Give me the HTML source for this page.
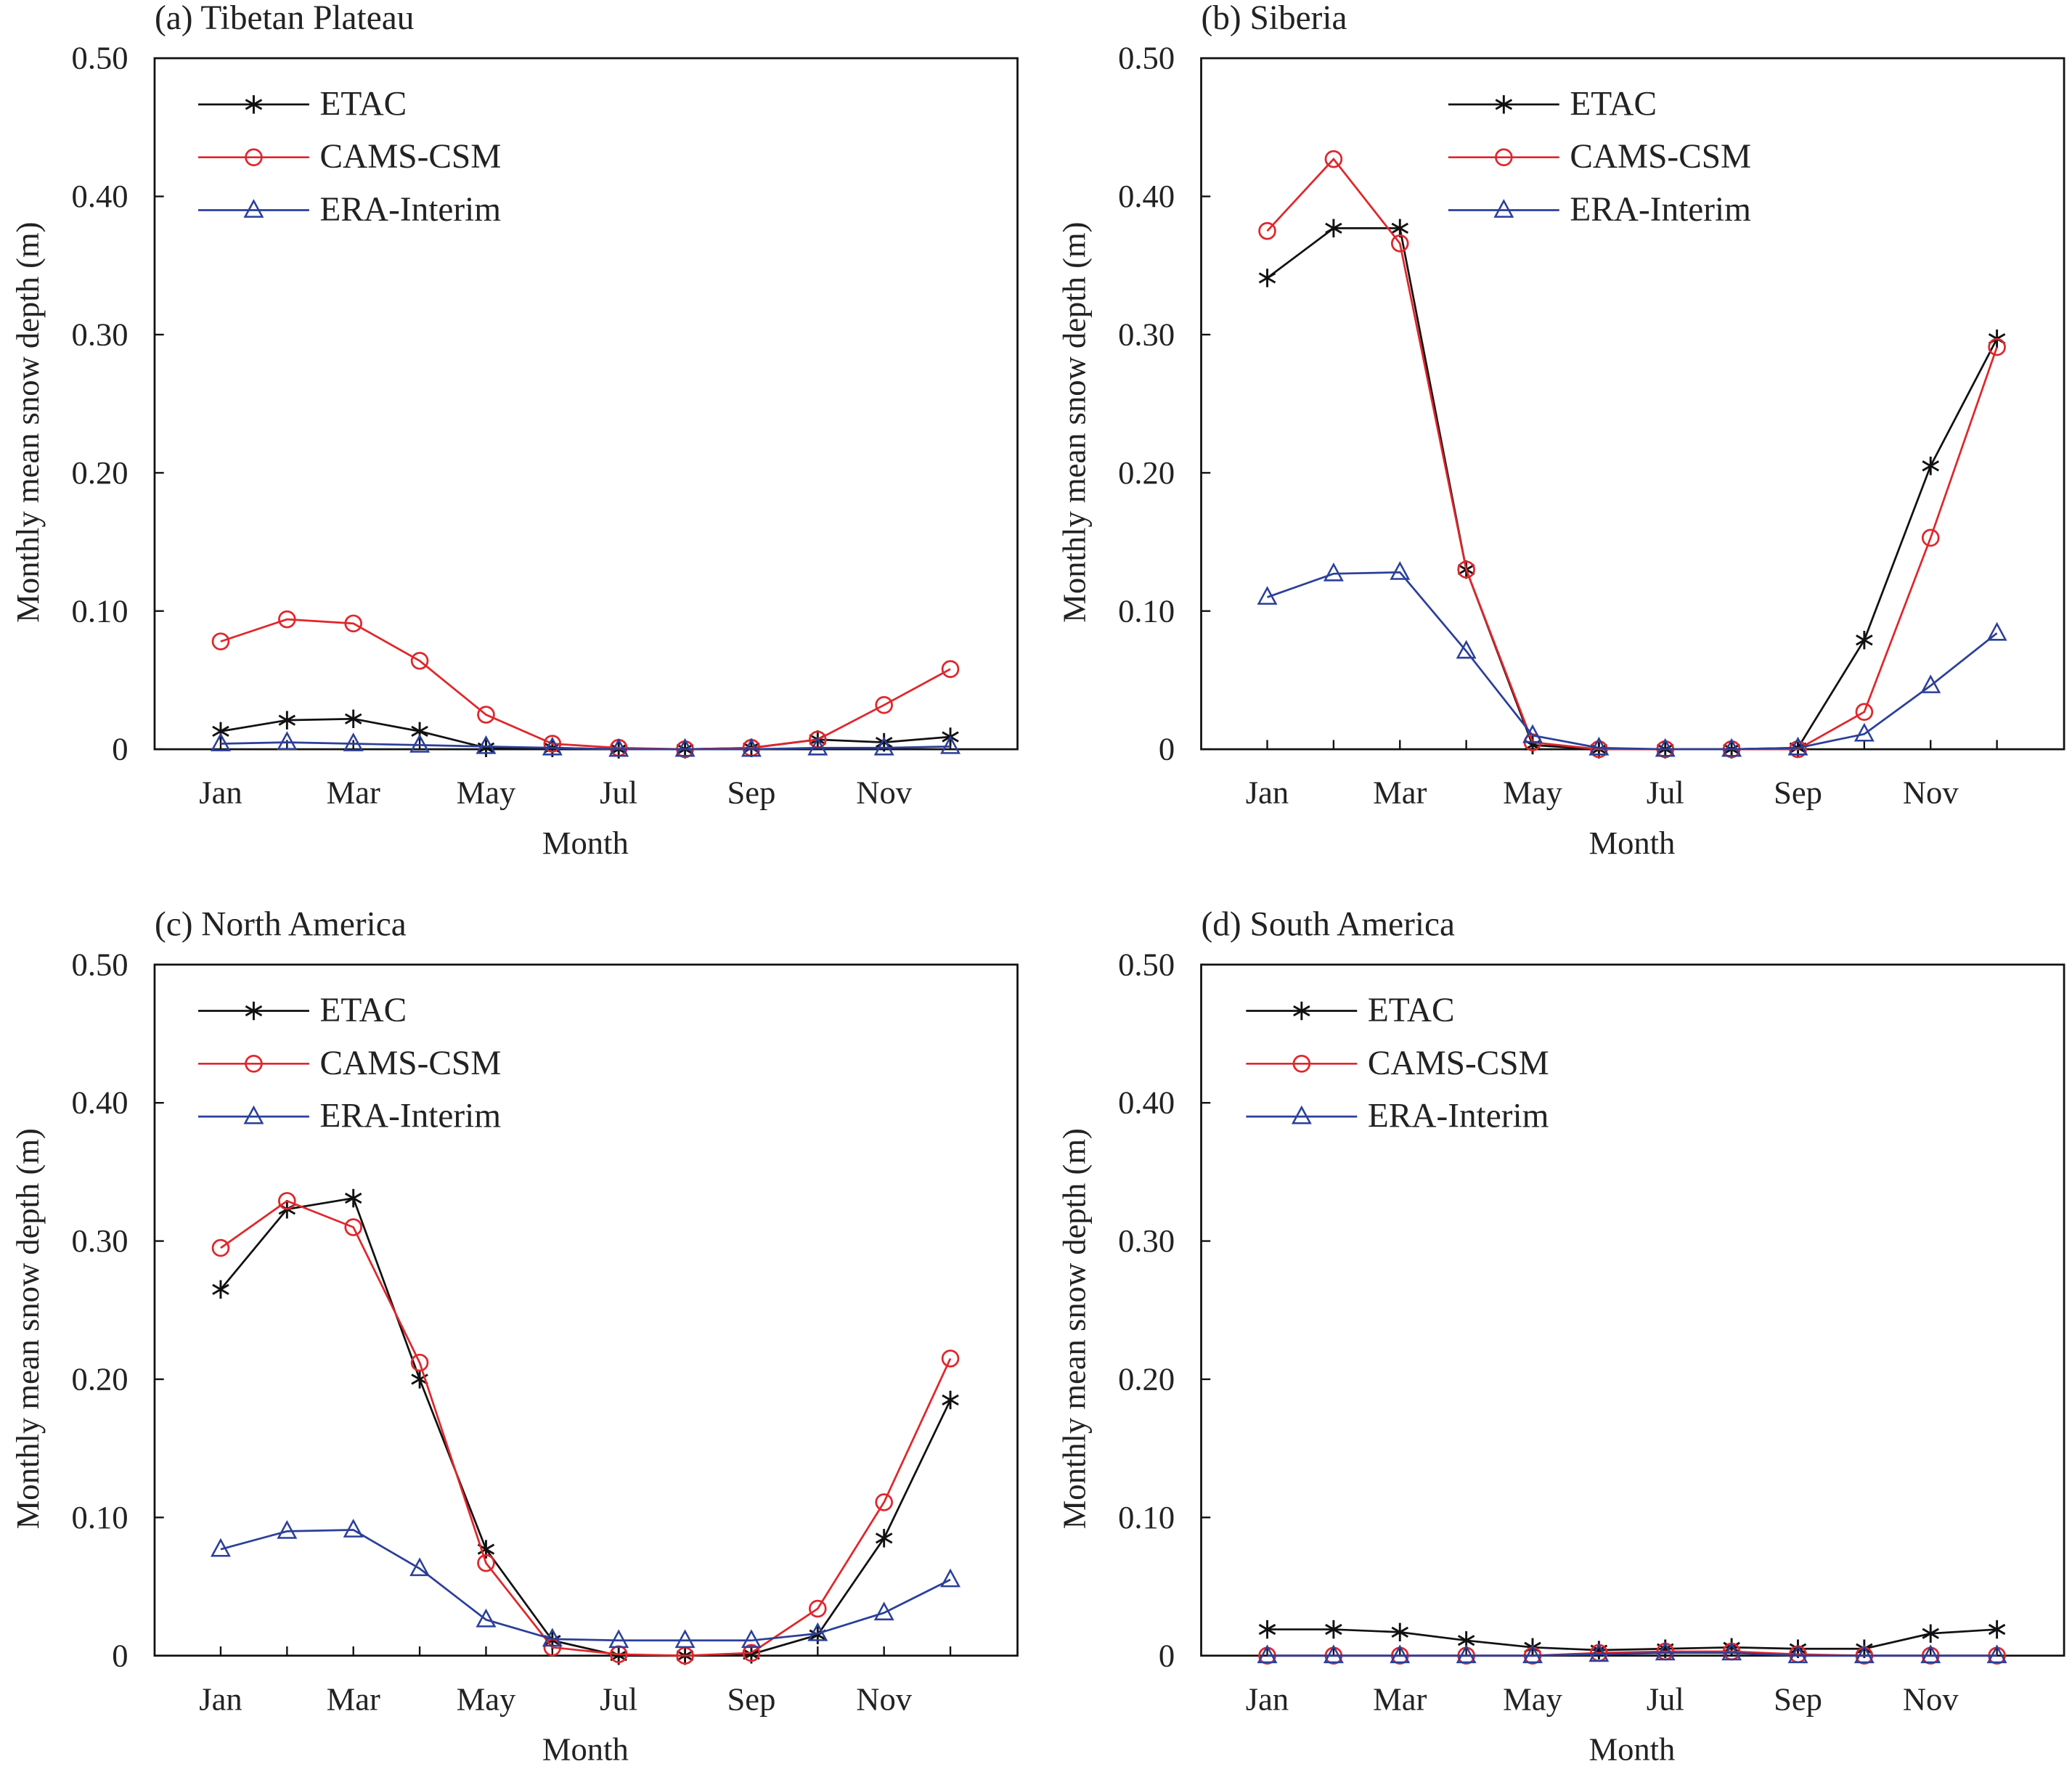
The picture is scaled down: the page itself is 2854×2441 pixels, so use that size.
<!DOCTYPE html>
<html><head><meta charset="utf-8"><style>
html,body{margin:0;padding:0;background:#fff;}
svg{display:block;}
text{font-family:"Liberation Serif",serif;fill:#222;}
</style></head><body>
<svg id="c" width="2854" height="2441" viewBox="0 0 1568 1341" xmlns="http://www.w3.org/2000/svg"></svg>
<script>
const months=["Jan","Feb","Mar","Apr","May","Jun","Jul","Aug","Sep","Oct","Nov","Dec"];
const yTicks=[0,0.1,0.2,0.3,0.4,0.5];
const yTickLabels=["0","0.10","0.20","0.30","0.40","0.50"];
const seriesNames=["ETAC","CAMS-CSM","ERA-Interim"];
const tpEtac=[0.013,0.021,0.022,0.013,0.001,0.001,0,0,0.001,0.007,0.005,0.009];
const tpCams=[0.078,0.094,0.091,0.064,0.025,0.004,0.001,0,0.001,0.007,0.032,0.058];
const tpEra=[0.004,0.005,0.004,0.003,0.002,0.001,0,0,0,0.001,0.001,0.002];
const siEtac=[0.341,0.377,0.377,0.130,0.003,0,0,0,0.001,0.079,0.205,0.297];
const siCams=[0.375,0.427,0.366,0.130,0.005,0,0,0,0,0.027,0.153,0.291];
const siEra=[0.110,0.127,0.128,0.071,0.010,0.001,0,0,0.001,0.011,0.046,0.084];
const naEtac=[0.265,0.323,0.331,0.200,0.077,0.011,0,0,0.001,0.015,0.085,0.185];
const naCams=[0.295,0.329,0.310,0.212,0.067,0.006,0.001,0,0.002,0.034,0.111,0.215];
const naEra=[0.077,0.090,0.091,0.063,0.026,0.012,0.011,0.011,0.011,0.016,0.031,0.055];
const saEtac=[0.019,0.019,0.017,0.011,0.006,0.004,0.005,0.006,0.005,0.005,0.016,0.019];
const saCams=[0,0,0,0,0,0.002,0.003,0.003,0.001,0,0,0];
const saEra=[0,0,0,0,0,0.001,0.002,0.002,0,0,0,0];

const NS="http://www.w3.org/2000/svg";
const svg=document.getElementById('c');
function mk(tag,attrs,parent){const e=document.createElementNS(NS,tag);for(const k in attrs)e.setAttribute(k,attrs[k]);(parent||svg).appendChild(e);return e;}
const colors=["#111","#e0262b","#2b3f9a"];
const FS=24.5, FS2=26;

function marker(g,kind,x,y,col){
  if(kind===0){
    const r=7;
    [90,30,150].forEach(a=>{const c=Math.cos(a*Math.PI/180)*r,s=Math.sin(a*Math.PI/180)*r;
      mk('line',{x1:x-c,y1:y-s,x2:x+c,y2:y+s,stroke:col,'stroke-width':1.6},g);});
  }else if(kind===1){
    mk('circle',{cx:x,cy:y,r:6,fill:'none',stroke:col,'stroke-width':1.5},g);
  }else{
    mk('polygon',{points:`${x},${y-7} ${x-6.5},${y+5} ${x+6.5},${y+5}`,fill:'none',stroke:col,'stroke-width':1.4},g);
  }
}

function panel(name,title,L,T,data,legX){
  const W=653,H=523,B=T+H;
  const g=mk('g',{});
  
  
  const xs=i=>L+50+i*50.2;
  const ys=v=>B-v/0.5*H;
  const t=mk('text',{x:L,y:T-22,'font-size':FS2},g);t.textContent=title;
  
  const box=mk('rect',{x:L,y:T,width:W,height:H,fill:'none',stroke:'#111','stroke-width':1.5},g);
  
  yTicks.forEach((v,i)=>{
    const y=ys(v);
    mk('line',{x1:L,y1:y,x2:L+7,y2:y,stroke:'#111','stroke-width':1.3},g);
    const tl=mk('text',{x:L-20,y:y+8,'font-size':FS,'text-anchor':'end'},g);tl.textContent=yTickLabels[i];
    
  });
  months.forEach((m,i)=>{
    const x=xs(i);
    mk('line',{x1:x,y1:B,x2:x,y2:B-7,stroke:'#111','stroke-width':1.3},g);
    if(i%2===0){const tl=mk('text',{x:x,y:B+41,'font-size':FS,'text-anchor':'middle'},g);tl.textContent=m;
      }
  });
  const xt=mk('text',{x:L+326,y:B+79,'font-size':FS,'text-anchor':'middle'},g);xt.textContent='Month';
  
  const yt=mk('text',{x:0,y:0,'font-size':FS,'text-anchor':'middle',transform:`translate(${L-88},${T+H/2+14}) rotate(-90)`},g);yt.textContent='Monthly mean snow depth (m)';
  
  data.forEach((arr,k)=>{
    const sg=mk('g',{},g);
    
    
    mk('polyline',{points:arr.map((v,i)=>xs(i)+','+ys(v)).join(' '),fill:'none',stroke:colors[k],'stroke-width':1.5},sg);
    arr.forEach((v,i)=>marker(sg,k,xs(i),ys(v),colors[k]));
  });
  seriesNames.forEach((n,k)=>{
    const lg=mk('g',{},g);
    
    
    const y=T+35+k*40;
    mk('line',{x1:legX,y1:y,x2:legX+84,y2:y,stroke:colors[k],'stroke-width':1.5},lg);
    marker(lg,k,legX+42,y,colors[k]);
    const tx=mk('text',{x:legX+92,y:y+8,'font-size':FS2},lg);tx.textContent=n;
  });
}
panel('panel-tibetan-plateau','(a) Tibetan Plateau',117,44,[tpEtac,tpCams,tpEra],150);
panel('panel-siberia','(b) Siberia',909,44,[siEtac,siCams,siEra],1096);
panel('panel-north-america','(c) North America',117,730,[naEtac,naCams,naEra],150);
panel('panel-south-america','(d) South America',909,730,[saEtac,saCams,saEra],943);
</script>
</body></html>
